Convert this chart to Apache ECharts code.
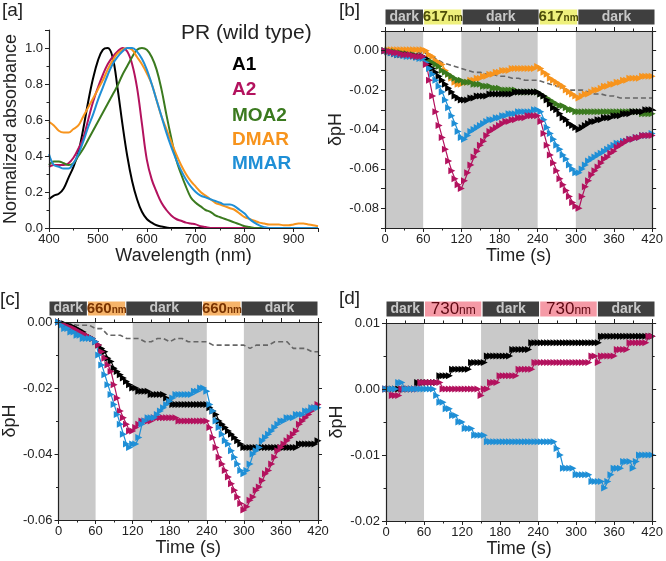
<!DOCTYPE html>
<html>
<head>
<meta charset="utf-8">
<script src="https://cdn.jsdelivr.net/npm/echarts@6/dist/echarts.min.js"></script>
<style>
html, body { margin: 0; padding: 0; background: #fff; }
#main { width: 666px; height: 561px; }
</style>
</head>
<body>
<div id="main"></div>
<script>
// wavelength grid (nm) for panel [a]
var wl = [400,410,420,430,440,450,460,470,480,490,500,510,520,530,540,550,560,570,580,590,
  600,610,620,630,640,650,660,670,680,690,700,710,720,730,740,750,760,770,780,790,
  800,810,820,830,840,850,860,870,880,890,900,910,920,930,940,950];
var absA1 = [0.16,0.18,0.19,0.22,0.28,0.34,0.42,0.55,0.70,0.83,0.93,0.99,1.00,0.95,0.78,0.58,0.40,0.26,0.16,0.09,
  0.05,0.03,0.015,0.008,0.003,0,0,0,0,0,0,0,0,0,0,0,0,0,0,0,
  0,0,0,0,0,0,0,0,0,0,0,0,0,0,0,0];
var absA2 = [0.34,0.35,0.35,0.35,0.36,0.39,0.44,0.50,0.60,0.70,0.78,0.85,0.91,0.95,0.98,1.00,0.98,0.91,0.78,0.58,
  0.38,0.27,0.20,0.14,0.10,0.07,0.05,0.04,0.03,0.025,0.02,0.01,0.005,0,0,0,0,0,0,0,
  0,0,0,0,0,0,0,0,0,0,0,0,0,0,0,0];
var absMOA2 = [0.35,0.37,0.37,0.36,0.35,0.36,0.40,0.44,0.49,0.54,0.59,0.64,0.69,0.74,0.79,0.85,0.90,0.95,0.99,1.00,
  0.99,0.95,0.88,0.77,0.63,0.50,0.38,0.30,0.23,0.17,0.14,0.12,0.10,0.09,0.07,0.06,0.05,0.04,0.03,0.02,
  0.01,0.005,0,0,0,0,0,0,0,0,0,0,0,0,0,0];
var absDMAR = [0.59,0.57,0.54,0.53,0.53,0.55,0.57,0.62,0.67,0.72,0.77,0.82,0.88,0.93,0.97,0.99,1.00,0.99,0.95,0.91,
  0.86,0.80,0.71,0.62,0.55,0.48,0.41,0.35,0.30,0.26,0.23,0.20,0.18,0.16,0.14,0.13,0.12,0.11,0.10,0.08,
  0.06,0.05,0.04,0.03,0.025,0.02,0.02,0.02,0.015,0.015,0.02,0.025,0.025,0.02,0.015,0.01];
var absMMAR = [0.41,0.35,0.34,0.33,0.33,0.36,0.41,0.48,0.56,0.63,0.71,0.78,0.85,0.91,0.95,0.98,1.00,1.00,0.98,0.94,
  0.88,0.80,0.71,0.62,0.53,0.45,0.38,0.32,0.27,0.23,0.20,0.18,0.17,0.16,0.15,0.14,0.13,0.13,0.12,0.10,
  0.08,0.05,0.03,0.015,0.005,0,0,0,0,0,0,0,0,0,0,0];

// time grids (s)
var t5 = [0,5,10,15,20,25,30,35,40,45,50,55,60,65,70,75,80,85,90,95,100,105,110,115,
  120,125,130,135,140,145,150,155,160,165,170,175,180,185,190,195,200,205,210,215,220,225,230,235,
  240,245,250,255,260,265,270,275,280,285,290,295,300,305,310,315,320,325,330,335,340,345,350,355,
  360,365,370,375,380,385,390,395,400,405,410,415,420];
var t10 = [0,10,20,30,40,50,60,70,80,90,100,110,120,130,140,150,160,170,180,190,200,210,
  220,230,240,250,260,270,280,290,300,310,320,330,340,350,360,370,380,390,400,410,420];

// panel [b]  617 nm
var bA1 = [0,-0.0005,-0.001,-0.0015,-0.002,-0.002,-0.002,-0.002,-0.0025,-0.0025,-0.003,-0.003,
  -0.003,-0.004,-0.007,-0.009,-0.011,-0.013,-0.015,-0.017,-0.019,-0.021,-0.023,-0.024,
  -0.025,-0.025,-0.025,-0.024,-0.024,-0.023,-0.023,-0.023,-0.023,-0.022,-0.022,-0.022,
  -0.022,-0.022,-0.022,-0.022,-0.022,-0.021,-0.021,-0.021,-0.021,-0.021,-0.021,-0.021,
  -0.021,-0.022,-0.023,-0.025,-0.027,-0.029,-0.030,-0.032,-0.034,-0.035,-0.037,-0.038,
  -0.039,-0.040,-0.039,-0.038,-0.037,-0.036,-0.036,-0.035,-0.035,-0.034,-0.034,-0.034,
  -0.033,-0.033,-0.033,-0.032,-0.032,-0.032,-0.031,-0.031,-0.031,-0.031,-0.030,-0.030,-0.030];
var bA2 = [0,-0.0003,-0.0005,-0.001,-0.001,-0.0015,-0.002,-0.002,-0.002,-0.0025,-0.003,-0.003,
  -0.003,-0.007,-0.015,-0.023,-0.031,-0.038,-0.044,-0.050,-0.056,-0.061,-0.065,-0.068,
  -0.070,-0.066,-0.062,-0.058,-0.054,-0.051,-0.048,-0.046,-0.043,-0.041,-0.040,-0.039,
  -0.038,-0.037,-0.036,-0.036,-0.035,-0.035,-0.034,-0.034,-0.034,-0.033,-0.033,-0.033,
  -0.033,-0.036,-0.042,-0.048,-0.053,-0.057,-0.061,-0.065,-0.068,-0.071,-0.074,-0.077,
  -0.079,-0.080,-0.074,-0.069,-0.066,-0.063,-0.061,-0.059,-0.057,-0.055,-0.054,-0.052,
  -0.051,-0.049,-0.048,-0.047,-0.046,-0.045,-0.045,-0.044,-0.044,-0.043,-0.043,-0.043,-0.043];
var bMOA2 = [0,0,-0.0005,-0.0005,-0.001,-0.001,-0.0015,-0.0015,-0.002,-0.002,-0.0025,-0.003,
  -0.003,-0.004,-0.005,-0.006,-0.007,-0.008,-0.010,-0.011,-0.012,-0.013,-0.014,-0.015,
  -0.015,-0.016,-0.016,-0.016,-0.017,-0.017,-0.017,-0.018,-0.018,-0.018,-0.019,-0.019,
  -0.019,-0.020,-0.020,-0.020,-0.020,-0.020,-0.021,-0.021,-0.021,-0.021,-0.021,-0.021,
  -0.021,-0.022,-0.023,-0.024,-0.025,-0.026,-0.027,-0.028,-0.028,-0.029,-0.030,-0.030,
  -0.031,-0.031,-0.031,-0.031,-0.031,-0.031,-0.031,-0.031,-0.031,-0.031,-0.031,-0.031,
  -0.031,-0.031,-0.031,-0.031,-0.031,-0.031,-0.031,-0.031,-0.031,-0.032,-0.032,-0.032,-0.032];
var bDMAR = [0,0.0005,0.0005,0.0005,0.0005,0.0005,0.0005,0.0005,0.0005,0.0005,0.0005,0.0005,
  0.0005,0,-0.002,-0.003,-0.005,-0.006,-0.007,-0.010,-0.012,-0.014,-0.016,-0.017,
  -0.017,-0.016,-0.016,-0.015,-0.015,-0.014,-0.014,-0.013,-0.013,-0.012,-0.012,-0.011,
  -0.011,-0.010,-0.010,-0.010,-0.009,-0.009,-0.009,-0.009,-0.009,-0.009,-0.009,-0.009,
  -0.008,-0.009,-0.011,-0.012,-0.014,-0.015,-0.016,-0.017,-0.018,-0.020,-0.021,-0.022,
  -0.023,-0.024,-0.023,-0.022,-0.022,-0.021,-0.020,-0.020,-0.019,-0.018,-0.018,-0.017,
  -0.017,-0.016,-0.016,-0.015,-0.015,-0.014,-0.014,-0.014,-0.014,-0.013,-0.013,-0.013,-0.013];
var bMMAR = [0,-0.0005,-0.001,-0.0015,-0.002,-0.002,-0.0025,-0.003,-0.003,-0.003,-0.0035,-0.004,
  -0.004,-0.006,-0.009,-0.012,-0.015,-0.018,-0.021,-0.025,-0.029,-0.033,-0.037,-0.041,
  -0.044,-0.045,-0.043,-0.041,-0.040,-0.039,-0.038,-0.037,-0.036,-0.035,-0.035,-0.034,
  -0.034,-0.033,-0.033,-0.032,-0.032,-0.032,-0.031,-0.031,-0.031,-0.031,-0.031,-0.030,
  -0.030,-0.031,-0.035,-0.039,-0.042,-0.045,-0.048,-0.050,-0.053,-0.055,-0.058,-0.060,
  -0.062,-0.062,-0.060,-0.058,-0.056,-0.055,-0.054,-0.053,-0.052,-0.051,-0.050,-0.049,
  -0.048,-0.047,-0.047,-0.046,-0.046,-0.045,-0.045,-0.044,-0.044,-0.043,-0.043,-0.043,-0.042];
var bCtrl = [0,0,0,0,-0.0005,-0.001,-0.001,-0.002,-0.004,-0.006,-0.007,-0.008,
  -0.009,-0.010,-0.011,-0.011,-0.012,-0.012,-0.013,-0.013,-0.014,-0.014,-0.015,-0.015,
  -0.015,-0.016,-0.017,-0.018,-0.019,-0.020,-0.020,-0.020,-0.021,-0.022,-0.022,-0.023,
  -0.023,-0.024,-0.024,-0.024,-0.024,-0.024,-0.024];

// panel [c]  660 nm
var cA1 = [0,-0.0003,-0.0005,-0.001,-0.0012,-0.0015,-0.002,-0.0025,-0.003,-0.004,-0.0045,-0.005,
  -0.006,-0.007,-0.008,-0.009,-0.011,-0.012,-0.014,-0.015,-0.016,-0.017,-0.018,-0.019,
  -0.020,-0.020,-0.021,-0.021,-0.021,-0.021,-0.022,-0.022,-0.022,-0.022,-0.022,-0.023,
  -0.024,-0.025,-0.025,-0.025,-0.025,-0.025,-0.025,-0.025,-0.025,-0.025,-0.025,-0.025,
  -0.025,-0.026,-0.027,-0.028,-0.030,-0.031,-0.032,-0.033,-0.034,-0.035,-0.036,-0.037,
  -0.038,-0.038,-0.038,-0.038,-0.038,-0.038,-0.038,-0.038,-0.038,-0.038,-0.038,-0.038,
  -0.038,-0.038,-0.038,-0.038,-0.038,-0.038,-0.037,-0.037,-0.037,-0.037,-0.037,-0.037,-0.036];
var cA2 = [0,-0.0005,-0.001,-0.0013,-0.0017,-0.002,-0.0025,-0.003,-0.0035,-0.004,-0.0045,-0.005,
  -0.006,-0.007,-0.009,-0.011,-0.013,-0.015,-0.019,-0.023,-0.027,-0.029,-0.031,-0.033,
  -0.033,-0.032,-0.031,-0.030,-0.030,-0.030,-0.030,-0.029,-0.029,-0.029,-0.029,-0.029,
  -0.029,-0.029,-0.029,-0.030,-0.030,-0.030,-0.030,-0.030,-0.030,-0.030,-0.030,-0.030,
  -0.030,-0.032,-0.035,-0.038,-0.041,-0.043,-0.045,-0.047,-0.049,-0.051,-0.053,-0.055,
  -0.057,-0.056,-0.054,-0.053,-0.051,-0.050,-0.048,-0.046,-0.045,-0.043,-0.041,-0.039,
  -0.038,-0.037,-0.036,-0.035,-0.034,-0.033,-0.031,-0.030,-0.029,-0.028,-0.027,-0.026,-0.025];
var cMMAR = [0,-0.001,-0.002,-0.002,-0.003,-0.003,-0.004,-0.004,-0.005,-0.005,-0.005,-0.005,
  -0.006,-0.010,-0.013,-0.016,-0.019,-0.022,-0.025,-0.028,-0.031,-0.034,-0.037,-0.038,
  -0.037,-0.037,-0.035,-0.031,-0.030,-0.029,-0.029,-0.029,-0.028,-0.027,-0.026,-0.025,
  -0.024,-0.023,-0.022,-0.022,-0.022,-0.022,-0.022,-0.022,-0.021,-0.021,-0.020,-0.020,
  -0.021,-0.025,-0.027,-0.030,-0.032,-0.034,-0.036,-0.037,-0.039,-0.041,-0.043,-0.045,
  -0.046,-0.045,-0.043,-0.040,-0.039,-0.038,-0.036,-0.035,-0.034,-0.033,-0.032,-0.031,
  -0.030,-0.030,-0.029,-0.029,-0.029,-0.028,-0.028,-0.028,-0.027,-0.027,-0.026,-0.026,-0.026];
var cCtrl = [0,0,-0.0005,-0.001,-0.001,-0.001,-0.002,-0.002,-0.004,-0.004,-0.004,-0.005,
  -0.005,-0.005,-0.006,-0.006,-0.005,-0.005,-0.006,-0.005,-0.005,-0.006,-0.006,-0.006,
  -0.006,-0.007,-0.007,-0.007,-0.007,-0.007,-0.007,-0.008,-0.007,-0.007,-0.007,-0.006,
  -0.006,-0.006,-0.008,-0.008,-0.008,-0.009,-0.009];

// panel [d]  730 nm
var dA1 = [0,0,0,0,0,0,0,0,0,0,0.001,0.001,
  0.001,0.001,0.001,0.001,0.001,0.002,0.002,0.002,0.002,0.003,0.003,0.003,
  0.003,0.003,0.003,0.004,0.004,0.004,0.004,0.004,0.005,0.005,0.005,0.005,
  0.005,0.005,0.005,0.005,0.006,0.006,0.006,0.006,0.006,0.006,0.007,0.007,
  0.007,0.007,0.007,0.007,0.007,0.007,0.007,0.007,0.007,0.007,0.007,0.007,
  0.007,0.007,0.007,0.007,0.007,0.007,0.007,0.007,0.008,0.008,0.008,0.008,
  0.008,0.008,0.008,0.008,0.008,0.008,0.008,0.008,0.008,0.008,0.008,0.008,0.008];
var dA2 = [0,0,-0.001,-0.001,-0.001,0,0,0,0,0,0,0.001,
  0.001,0.001,0.001,0.001,0.001,0.001,0,0,0,0,0,0,
  0,0,0,0,0,0,-0.001,0,0,0.001,0.001,0.001,
  0.002,0.002,0.002,0.002,0.002,0.002,0.003,0.003,0.003,0.003,0.003,0.004,
  0.004,0.004,0.004,0.004,0.004,0.004,0.004,0.004,0.004,0.004,0.004,0.004,
  0.004,0.004,0.004,0.004,0.004,0.005,0.005,0.004,0.005,0.005,0.005,0.005,
  0.005,0.006,0.006,0.006,0.006,0.007,0.007,0.007,0.007,0.007,0.007,0.008,0.008];
var dMMAR = [0,0,0,0,0.001,0.001,0,0,0,0,0,0,
  0,0,0,0,-0.001,-0.002,-0.002,-0.003,-0.003,-0.004,-0.004,-0.005,
  -0.005,-0.006,-0.006,-0.006,-0.007,-0.007,-0.007,-0.007,-0.008,-0.008,-0.008,-0.008,
  -0.008,-0.008,-0.008,-0.008,-0.008,-0.008,-0.008,-0.008,-0.008,-0.008,-0.008,-0.008,
  -0.008,-0.008,-0.008,-0.008,-0.008,-0.008,-0.009,-0.010,-0.012,-0.012,-0.012,-0.012,
  -0.013,-0.013,-0.013,-0.013,-0.013,-0.014,-0.014,-0.014,-0.014,-0.015,-0.014,-0.013,
  -0.012,-0.012,-0.012,-0.011,-0.011,-0.011,-0.012,-0.011,-0.010,-0.010,-0.010,-0.010,-0.010];

// illumination schedule: [label, start, end]
var schedBC = [['dark',0,60],['light',60,120],['dark',120,240],['light',240,300],['dark',300,420]];
var schedD = [['dark',0,60],['light',60,150],['dark',150,240],['light',240,330],['dark',330,420]];

var FONT = '"Liberation Sans", Arial, sans-serif';
var NARROW = '"Liberation Sans Narrow", "Liberation Sans", Arial, sans-serif';
var cA = '#000000', cB = '#b3125e', cG = '#3b7a1f', cO = '#f7941d', cM = '#1f8fd6';

function zip(xs, ys) { return xs.map(function(x, i) { return [x, ys[i]]; }); }

function axis(o) {
	var a = {
		type: 'value', gridIndex: o.g, min: o.min, max: o.max, interval: o.interval,
		position: o.pos, z: 10,
		axisLine: { show: true, onZero: false, lineStyle: { color: '#222', width: 1.2 } },
		axisTick: { show: true, length: 4, lineStyle: { color: '#222' } },
		minorTick: { show: o.minor !== false, splitNumber: 2, length: 2.5, lineStyle: { color: '#222' } },
		splitLine: { show: false },
		axisLabel: { show: !!o.fmt, fontFamily: FONT, fontSize: 13, color: '#222', margin: o.margin || 6,
			formatter: o.fmt, showMaxLabel: o.showMax !== false }
	};
	if (o.name) {
		a.name = o.name; a.nameLocation = 'middle'; a.nameGap = o.gap;
		a.nameTextStyle = { fontFamily: FONT, fontSize: 18, color: '#222' };
	}
	return a;
}

function shade(xi, yi, sched) {
	return {
		type: 'line', xAxisIndex: xi, yAxisIndex: yi, data: [], z: 1, silent: true,
		markArea: {
			silent: true, itemStyle: { color: '#c9c9c9' },
			data: sched.filter(function(s) { return s[0] === 'dark'; }).map(function(s) {
				return [{ xAxis: s[1] }, { xAxis: s[2] }];
			})
		}
	};
}

function header(xi, yi, sched, nm, fill, ink, bold, big, small) {
	return {
		type: 'line', xAxisIndex: xi, yAxisIndex: yi, data: [], silent: true,
		markArea: {
			silent: true,
			data: sched.map(function(s) {
				var dark = s[0] === 'dark';
				return [{
					xAxis: s[1],
					itemStyle: { color: dark ? '#3f3f3f' : fill, borderColor: '#fff', borderWidth: 1 },
					label: {
						show: true, position: 'inside',
						formatter: dark ? '{d|dark}' : '{n|' + nm + '}{u|nm}',
						rich: {
							d: { fontFamily: FONT, fontSize: 14, fontWeight: 'bold', color: '#c8c8c8' },
							n: { fontFamily: NARROW, fontSize: big, fontWeight: bold, color: ink },
							u: { fontFamily: NARROW, fontSize: small, fontWeight: bold, color: ink, padding: [3, 0, 0, 0] }
						}
					}
				}, { xAxis: s[2] }];
			})
		}
	};
}

function trace(xi, yi, color, data) {
	return {
		type: 'line', xAxisIndex: xi, yAxisIndex: yi, data: data, z: 3,
		symbol: 'triangle', symbolSize: 7, symbolRotate: -90,
		lineStyle: { color: color, width: 1.2 }, itemStyle: { color: color }
	};
}

function ctrl(xi, yi, data) {
	return {
		type: 'line', xAxisIndex: xi, yAxisIndex: yi, data: data, z: 2, showSymbol: false,
		lineStyle: { color: '#666', width: 1.6, type: [5, 3] }
	};
}

function spec(color, data) {
	return {
		type: 'line', xAxisIndex: 0, yAxisIndex: 0, data: zip(wl, data), smooth: 0.4,
		showSymbol: false, lineStyle: { color: color, width: 2 }, z: 3
	};
}

var f2 = function(v) { return Math.abs(v) < 1e-9 ? '0.00' : v.toFixed(2); };
var fEven = function(v) { return Math.round(v * 100) % 2 === 0 ? f2(v) : ''; };
var f1 = function(v) { return v.toFixed(1); };
var f0 = function(v) { return String(v); };

var chart = echarts.init(document.getElementById('main'), null, { renderer: 'canvas' });

var option = {
	animation: false,
	backgroundColor: '#fff',
	grid: [
		{ left: 49, top: 30, width: 269, height: 198 },
		{ left: 385, top: 31, width: 270, height: 197 },
		{ left: 49, top: 322, width: 269, height: 198 },
		{ left: 386, top: 323, width: 269, height: 198 },
		{ left: 385, top: 9, width: 270, height: 16 },
		{ left: 49, top: 301, width: 269, height: 15 },
		{ left: 386, top: 301, width: 269, height: 16 }
	],
	xAxis: [
		axis({ g: 0, min: 400, max: 950, interval: 100, fmt: f0, showMax: false, name: 'Wavelength (nm)', gap: 19, margin: 5 }),
		axis({ g: 1, min: 0, max: 420, interval: 60, fmt: f0, name: 'Time (s)', gap: 13, margin: 5 }),
		axis({ g: 1, min: 0, max: 420, interval: 60, pos: 'top' }),
		axis({ g: 2, min: 0, max: 420, interval: 60, fmt: f0, name: 'Time (s)', gap: 18, margin: 5 }),
		axis({ g: 2, min: 0, max: 420, interval: 60, pos: 'top' }),
		axis({ g: 3, min: 0, max: 420, interval: 60, fmt: f0, name: 'Time (s)', gap: 16, margin: 5 }),
		axis({ g: 3, min: 0, max: 420, interval: 60, pos: 'top' }),
		{ type: 'value', gridIndex: 4, min: 0, max: 420, show: false },
		{ type: 'value', gridIndex: 5, min: 0, max: 420, show: false },
		{ type: 'value', gridIndex: 6, min: 0, max: 420, show: false }
	],
	yAxis: [
		axis({ g: 0, min: 0, max: 1.1, interval: 0.2, fmt: f1, showMax: false, name: 'Normalized absorbance', gap: 29 }),
		axis({ g: 1, min: -0.09, max: 0.01, interval: 0.01, minor: false, fmt: fEven, name: '\u03b4pH', gap: 33 }),
		axis({ g: 1, min: -0.09, max: 0.01, interval: 0.01, minor: false, pos: 'right' }),
		axis({ g: 2, min: -0.06, max: 0, interval: 0.02, fmt: f2, name: '\u03b4pH', gap: 26 }),
		axis({ g: 2, min: -0.06, max: 0, interval: 0.02, pos: 'right' }),
		axis({ g: 3, min: -0.02, max: 0.01, interval: 0.01, fmt: f2, name: '\u03b4pH', gap: 34 }),
		axis({ g: 3, min: -0.02, max: 0.01, interval: 0.01, pos: 'right' }),
		{ type: 'value', gridIndex: 4, min: 0, max: 1, show: false },
		{ type: 'value', gridIndex: 5, min: 0, max: 1, show: false },
		{ type: 'value', gridIndex: 6, min: 0, max: 1, show: false }
	],
	series: [
		spec(cA, absA1), spec(cB, absA2), spec(cG, absMOA2), spec(cO, absDMAR), spec(cM, absMMAR),

		shade(1, 1, schedBC),
		ctrl(1, 1, zip(t10, bCtrl)),
		trace(1, 1, cO, zip(t5, bDMAR)),
		trace(1, 1, cG, zip(t5, bMOA2)),
		trace(1, 1, cA, zip(t5, bA1)),
		trace(1, 1, cM, zip(t5, bMMAR)),
		trace(1, 1, cB, zip(t5, bA2)),

		shade(3, 3, schedBC),
		ctrl(3, 3, zip(t10, cCtrl)),
		trace(3, 3, cA, zip(t5, cA1)),
		trace(3, 3, cB, zip(t5, cA2)),
		trace(3, 3, cM, zip(t5, cMMAR)),

		shade(5, 5, schedD),
		trace(5, 5, cA, zip(t5, dA1)),
		trace(5, 5, cB, zip(t5, dA2)),
		trace(5, 5, cM, zip(t5, dMMAR)),

		header(7, 7, schedBC, '617', '#eef07c', '#4d4d08', 'bold', 15, 10),
		header(8, 8, schedBC, '660', '#f6b46a', '#7a3300', 'bold', 15, 10),
		header(9, 9, schedD, '730', '#f59aa6', '#5e0812', 'normal', 17, 12)
	],
	graphic: [
		{ type: 'text', x: 2, y: 1, style: { text: '[a]', font: '19px ' + FONT, fill: '#222' } },
		{ type: 'text', x: 339, y: 1, style: { text: '[b]', font: '19px ' + FONT, fill: '#222' } },
		{ type: 'text', x: 0, y: 290, style: { text: '[c]', font: '19px ' + FONT, fill: '#222' } },
		{ type: 'text', x: 339, y: 289, style: { text: '[d]', font: '19px ' + FONT, fill: '#222' } },
		{ type: 'text', x: 181, y: 33, style: { text: 'PR (wild type)', font: '21px ' + FONT, fill: '#222', verticalAlign: 'middle' } },
		{ type: 'text', x: 232, y: 65, style: { text: 'A1', font: 'bold 19px ' + FONT, fill: cA, verticalAlign: 'middle' } },
		{ type: 'text', x: 232, y: 90, style: { text: 'A2', font: 'bold 19px ' + FONT, fill: cB, verticalAlign: 'middle' } },
		{ type: 'text', x: 232, y: 116, style: { text: 'MOA2', font: 'bold 19px ' + FONT, fill: cG, verticalAlign: 'middle' } },
		{ type: 'text', x: 232, y: 140, style: { text: 'DMAR', font: 'bold 19px ' + FONT, fill: cO, verticalAlign: 'middle' } },
		{ type: 'text', x: 232, y: 164, style: { text: 'MMAR', font: 'bold 19px ' + FONT, fill: cM, verticalAlign: 'middle' } }
	]
};
chart.setOption(option);
</script>
</body>
</html>
